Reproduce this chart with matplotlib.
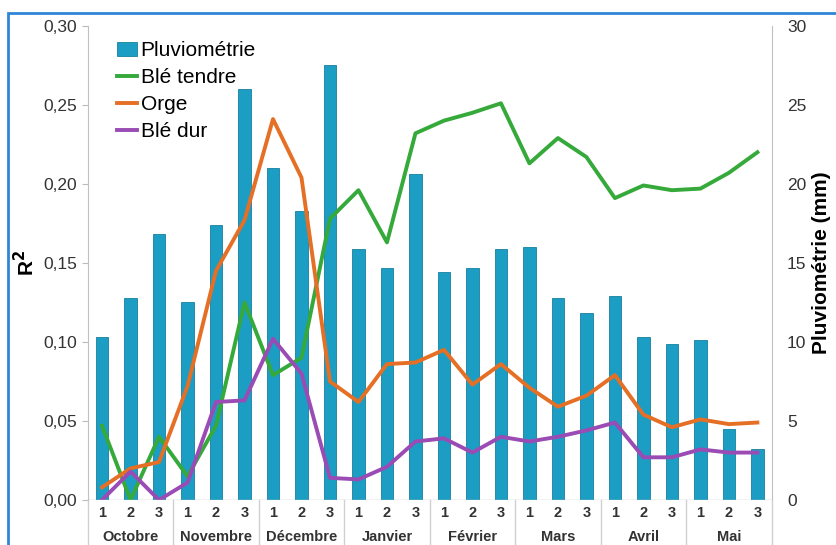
import matplotlib.pyplot as plt
from matplotlib.patches import Rectangle
from matplotlib.ticker import FuncFormatter
import matplotlib.transforms as mtransforms

plt.rcParams['font.family'] = ['Liberation Sans', 'DejaVu Sans']

months = ["Octobre", "Novembre", "Décembre", "Janvier", "Février", "Mars", "Avril", "Mai"]
decades = ["1", "2", "3"]

pluvio = [10.3, 12.8, 16.8, 12.5, 17.4, 26.0, 21.0, 18.3, 27.5, 15.9, 14.7, 20.6,
          14.4, 14.7, 15.9, 16.0, 12.8, 11.8, 12.9, 10.3, 9.9, 10.1, 4.5, 3.2]
ble_tendre = [0.047, 0.0, 0.040, 0.015, 0.047, 0.125, 0.079, 0.090, 0.178, 0.196, 0.163, 0.232,
              0.240, 0.245, 0.251, 0.213, 0.229, 0.217, 0.191, 0.199, 0.196, 0.197, 0.207, 0.220]
orge = [0.008, 0.020, 0.024, 0.072, 0.145, 0.177, 0.241, 0.204, 0.075, 0.062, 0.086, 0.087,
        0.095, 0.073, 0.086, 0.071, 0.059, 0.066, 0.079, 0.054, 0.046, 0.051, 0.048, 0.049]
ble_dur = [0.0, 0.018, 0.0, 0.011, 0.062, 0.063, 0.102, 0.080, 0.014, 0.013, 0.021, 0.037,
           0.039, 0.030, 0.040, 0.037, 0.040, 0.044, 0.049, 0.027, 0.027, 0.032, 0.030, 0.030]

x = list(range(len(pluvio)))

fig = plt.figure(figsize=(8.36, 5.45), dpi=100)
fig.patch.set_facecolor("white")
fig.patches.append(Rectangle((0.010, -0.05), 1.05, 1.027, transform=fig.transFigure,
                             fill=False, edgecolor="#2f86d6", linewidth=2.0))

ax = fig.add_axes([0.105, 0.0826, 0.818, 0.870])
ax2 = ax.twinx()
ax.set_zorder(ax2.get_zorder() + 1)
ax.patch.set_visible(False)

bars = ax2.bar(x, pluvio, width=0.44, color="#1c9dc4", edgecolor="#16809f", linewidth=0.6,
               label="Pluviométrie")
l1, = ax.plot(x, ble_tendre, color="#35a93a", lw=2.8, label="Blé tendre")
l2, = ax.plot(x, orge, color="#e56f25", lw=2.8, label="Orge")
l3, = ax.plot(x, ble_dur, color="#9a4bb4", lw=2.8, label="Blé dur")

ax.set_xlim(-0.5, len(x) - 0.5)
ax.set_ylim(0, 0.30)
ax2.set_ylim(0, 30)
ax.set_yticks([0, 0.05, 0.10, 0.15, 0.20, 0.25, 0.30])
ax.yaxis.set_major_formatter(FuncFormatter(lambda v, p: f"{v:.2f}".replace(".", ",")))
ax2.set_yticks([0, 5, 10, 15, 20, 25, 30])
ax.set_xticks([])
ax2.set_xticks([])

for a in (ax, ax2):
    for s in a.spines.values():
        s.set_visible(False)
    a.tick_params(axis="y", labelsize=12.5, labelcolor="#333333", color="#bbbbbb", length=4)
ax.spines["left"].set_visible(True)
ax.spines["left"].set_color("#c0c0c0")
ax.spines["left"].set_bounds(0, 0.30)
ax2.spines["right"].set_visible(True)
ax2.spines["right"].set_color("#c0c0c0")
ax2.spines["right"].set_bounds(0, 30)
ax.axhline(0, color="#c0c0c0", lw=1)
ax2.tick_params(axis="y", length=0, pad=11)

ax.set_ylabel("R$^\\mathbf{2}$", fontsize=15, fontweight="bold", labelpad=4)
ax2.set_ylabel("Pluviométrie (mm)", fontsize=15, fontweight="bold", labelpad=4)

# category axis: decades and months
trans = mtransforms.blended_transform_factory(ax.transData, ax.transAxes)
for i in x:
    ax.text(i, -0.027, decades[i % 3], transform=trans, ha="center", va="center",
            fontsize=10.5, fontweight="bold", color="#333333")
for m, name in enumerate(months):
    ax.text(3 * m + 1, -0.079, name, transform=trans, ha="center", va="center",
            fontsize=10.5, fontweight="bold", color="#333333")
for m in range(len(months) + 1):
    ax.plot([3 * m - 0.5, 3 * m - 0.5], [0, -0.2], transform=trans, color="#d0d0d0",
            lw=1, clip_on=False)

ax.legend(handles=[bars, l1, l2, l3], loc="upper left", bbox_to_anchor=(0.03, 0.985),
          frameon=False, fontsize=15, handlelength=1.0, handletextpad=0.15,
          labelspacing=0.38, borderaxespad=0)

fig.savefig("out.png", dpi=100)
